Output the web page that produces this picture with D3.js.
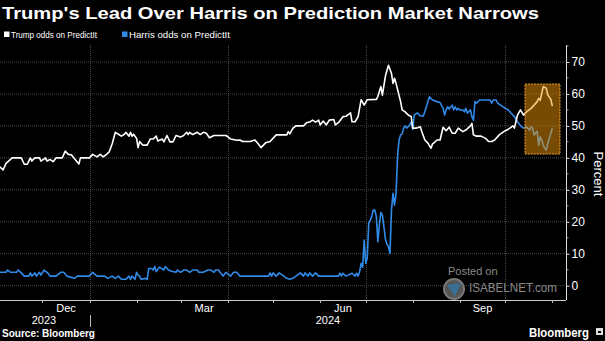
<!DOCTYPE html>
<html><head><meta charset="utf-8">
<script src="https://cdn.jsdelivr.net/npm/d3@7"></script>
<style>
html,body{margin:0;padding:0;background:#000;}
svg{display:block;}
text{font-family:"Liberation Sans",Arial,sans-serif;fill:#fff;}
</style></head>
<body>
<svg id="c" width="605" height="341"></svg>
<script>
// ---------------- DATA ----------------
const title = "Trump's Lead Over Harris on Prediction Market Narrows";
const seriesNames = ["Trump odds on PredictIt", "Harris odds on PredictIt"];
const yTicks = [0, 10, 20, 30, 40, 50, 60, 70];
const yMinorTicks = [5, 15, 25, 35, 45, 55, 65, 75];
const monthLabels = ["Dec", "Mar", "Jun", "Sep"];
const monthLabelDates = ["2023-12-01", "2024-03-01", "2024-06-01", "2024-09-01"];
const yearLabels = ["2023", "2024"];
const source = "Source: Bloomberg";

const trumpDates = ["2023-11-03","2023-11-05","2023-11-07","2023-11-11","2023-11-17","2023-11-19","2023-11-21","2023-11-23","2023-11-24","2023-11-26","2023-11-29","2023-11-30","2023-12-03","2023-12-04","2023-12-06","2023-12-08","2023-12-10","2023-12-14","2023-12-16","2023-12-18","2023-12-20","2023-12-22","2023-12-25","2023-12-26","2024-01-01","2024-01-03","2024-01-06","2024-01-08","2024-01-10","2024-01-12","2024-01-14","2024-01-16","2024-01-18","2024-01-20","2024-01-22","2024-01-24","2024-01-25","2024-01-27","2024-01-28","2024-01-29","2024-01-30","2024-02-01","2024-02-02","2024-02-03","2024-02-05","2024-02-08","2024-02-10","2024-02-12","2024-02-14","2024-02-15","2024-02-18","2024-02-19","2024-02-21","2024-02-23","2024-02-25","2024-02-27","2024-03-01","2024-03-03","2024-03-05","2024-03-06","2024-03-07","2024-03-09","2024-03-12","2024-03-14","2024-03-16","2024-03-18","2024-03-20","2024-03-23","2024-03-31","2024-04-03","2024-04-07","2024-04-09","2024-04-11","2024-04-16","2024-04-19","2024-04-21","2024-04-23","2024-04-26","2024-04-29","2024-05-03","2024-05-10","2024-05-11","2024-05-12","2024-05-14","2024-05-16","2024-05-21","2024-05-23","2024-05-25","2024-05-27","2024-05-29","2024-05-31","2024-06-01","2024-06-03","2024-06-05","2024-06-07","2024-06-10","2024-06-11","2024-06-13","2024-06-16","2024-06-18","2024-06-21","2024-06-22","2024-06-24","2024-06-26","2024-06-28","2024-06-30","2024-07-02","2024-07-08","2024-07-09","2024-07-11","2024-07-12","2024-07-14","2024-07-16","2024-07-18","2024-07-19","2024-07-20","2024-07-21","2024-07-24","2024-07-25","2024-07-27","2024-07-29","2024-07-31","2024-08-01","2024-08-03","2024-08-06","2024-08-07","2024-08-09","2024-08-11","2024-08-13","2024-08-14","2024-08-17","2024-08-19","2024-08-21","2024-08-23","2024-08-25","2024-08-27","2024-08-29","2024-08-31","2024-09-03","2024-09-05","2024-09-08","2024-09-09","2024-09-10","2024-09-12","2024-09-15","2024-09-18","2024-09-20","2024-09-22","2024-09-24","2024-09-27","2024-09-30","2024-10-02","2024-10-04","2024-10-06","2024-10-07","2024-10-09","2024-10-11","2024-10-13","2024-10-15","2024-10-18","2024-10-20","2024-10-22","2024-10-23","2024-10-24","2024-10-26","2024-10-28","2024-10-29","2024-10-31","2024-11-01"];
const trumpValues = [37.2,36.2,38.3,40,40,38,38,40,39,40,40,39,40,39,39.5,38.8,40,40,42.1,41.1,41,39.8,38.1,40,40,41.1,40.3,41.1,40.3,41,41.9,44.5,48,47.4,46.8,47.4,48,46.8,48,46.8,47.4,46.1,43.2,45.1,44,44,45.9,45.9,46.8,45.3,45.9,45,47,45,45,47,46.5,47,48,47.3,48,47.3,48,47.3,48,47.7,46.3,47,47,45.9,45.5,45.6,45.1,45.1,45.6,44.5,43.2,44.7,45.1,47.2,47.2,48.2,47.5,49.2,50,50,51,51.2,51.8,51.2,51.8,50.3,51.5,50.3,51.8,52,50.3,51,52.9,53,54.1,51.3,51.3,52.9,58.2,56.5,58.2,58.3,59.2,62.3,59.6,65.6,69,66.4,63.3,64.9,63.3,57.6,55,54.4,53.4,52.9,49.3,49.3,49.7,48.2,45.6,44.6,43,44.3,45.6,45.6,49.6,48.5,49.6,47.7,47.7,49.3,48.2,48.7,50,50.8,47.2,46.8,46.8,46.1,45.1,45.1,45.6,47.2,48.2,48.7,49.3,50,49.3,53.4,55,53.4,54.4,55.5,56.5,57.6,58.6,58,62.3,61.8,59.7,58.3,56.2];

const harrisDates = ["2023-11-03","2023-11-07","2023-11-08","2023-11-10","2023-11-14","2023-11-15","2023-11-17","2023-11-19","2023-11-22","2023-11-23","2023-11-24","2023-11-26","2023-11-27","2023-11-29","2023-11-30","2023-12-02","2023-12-04","2023-12-06","2023-12-10","2023-12-13","2023-12-15","2023-12-17","2023-12-22","2023-12-24","2024-01-01","2024-01-03","2024-01-06","2024-01-11","2024-01-13","2024-01-16","2024-01-18","2024-01-20","2024-01-22","2024-01-25","2024-01-27","2024-01-28","2024-01-29","2024-01-31","2024-02-01","2024-02-02","2024-02-03","2024-02-04","2024-02-07","2024-02-08","2024-02-09","2024-02-11","2024-02-12","2024-02-13","2024-02-14","2024-02-16","2024-02-19","2024-02-20","2024-02-22","2024-02-24","2024-02-27","2024-02-28","2024-03-01","2024-03-03","2024-03-05","2024-03-07","2024-03-09","2024-03-12","2024-03-13","2024-03-16","2024-03-19","2024-03-21","2024-03-23","2024-03-24","2024-03-26","2024-03-27","2024-03-29","2024-03-31","2024-04-03","2024-04-05","2024-04-07","2024-04-09","2024-04-28","2024-04-29","2024-04-30","2024-05-01","2024-05-03","2024-05-05","2024-05-08","2024-05-10","2024-05-12","2024-05-14","2024-05-16","2024-05-19","2024-05-21","2024-05-22","2024-05-24","2024-05-25","2024-05-27","2024-05-29","2024-05-31","2024-06-13","2024-06-14","2024-06-15","2024-06-16","2024-06-18","2024-06-22","2024-06-24","2024-06-25","2024-06-26","2024-06-27","2024-06-28","2024-06-29","2024-06-30","2024-07-01","2024-07-02","2024-07-03","2024-07-04","2024-07-05","2024-07-06","2024-07-07","2024-07-08","2024-07-09","2024-07-10","2024-07-11","2024-07-12","2024-07-13","2024-07-14","2024-07-15","2024-07-16","2024-07-17","2024-07-18","2024-07-19","2024-07-20","2024-07-21","2024-07-22","2024-07-23","2024-07-24","2024-07-25","2024-07-26","2024-07-27","2024-07-28","2024-07-30","2024-07-31","2024-08-01","2024-08-02","2024-08-04","2024-08-06","2024-08-08","2024-08-10","2024-08-12","2024-08-14","2024-08-17","2024-08-19","2024-08-21","2024-08-22","2024-08-23","2024-08-24","2024-08-25","2024-08-27","2024-08-28","2024-08-29","2024-08-30","2024-08-31","2024-09-01","2024-09-03","2024-09-04","2024-09-05","2024-09-06","2024-09-08","2024-09-09","2024-09-10","2024-09-11","2024-09-12","2024-09-14","2024-09-18","2024-09-21","2024-09-22","2024-09-23","2024-09-25","2024-09-26","2024-09-28","2024-10-01","2024-10-03","2024-10-05","2024-10-07","2024-10-09","2024-10-12","2024-10-13","2024-10-15","2024-10-17","2024-10-18","2024-10-19","2024-10-20","2024-10-22","2024-10-23","2024-10-24","2024-10-25","2024-10-26","2024-10-27","2024-10-28","2024-10-29","2024-10-30","2024-10-31","2024-11-01"];
const harrisValues = [4.2,4.2,4.9,4.2,4.2,4.9,4,3,3,4,3,4,3,4.2,3.3,4.9,4.2,3,3,4.2,4.2,3,2.3,3,3,4.2,3,3,2.3,3,2.3,3,2,2,3,2,3,2,4.2,3.3,3,2,2.3,2,5.4,5.4,4.9,6,4.4,5.8,4.9,6,4.9,4.5,4.2,4.9,4.2,4.9,4.9,4.2,4.9,4.9,4.2,4.2,4.9,4.9,4.2,4.9,4.9,4.2,3,4.2,3,4.2,4.2,3,3,4,3,4,3,4,3,2.3,2,2.3,3,4,3,4,3,4,3,4,3,3,3.9,3,3.9,3,3.9,3,3.9,3,4.4,7,5.8,14.3,7,8.6,19.5,20.5,21.6,23.7,23.7,21.6,13.8,19,22.9,22.1,18.5,14.5,13,12.2,10.1,23.7,28.9,25.2,28.9,40.4,45.6,47.2,47.5,49.3,50,49.3,50.3,51.3,48.9,53.4,54.1,53.1,53.1,56,59.1,58.1,57.6,57.3,55.5,53.4,55,56,55.3,56.5,55,56,55,55.5,55,55,54.4,55.5,54,55,52.9,51.8,57.6,57.1,58.1,58.1,58.1,57.1,58.1,58.1,57.1,56.5,55.5,55,53.9,52.9,51.3,49.6,49.3,49.7,48.7,49.6,49.3,47.2,48.3,44,46.6,45.6,44,43,42.5,44.6,46.1,47.7,49.3];

// highlight box (date range and value range)
const boxDates = ["2024-10-14", "2024-11-06"];
const boxValues = [41.2, 63.1];

// ---------------- CHART ----------------
const parse = d3.utcParse("%Y-%m-%d");
const svg = d3.select("#c");
const W = 605, H = 341;
svg.append("rect").attr("width", W).attr("height", H).attr("fill", "#000");

const plotL = 0, plotR = 566, plotT = 45, plotB = 300;
const x = d3.scaleUtc().domain([parse("2023-11-03"), parse("2024-11-10")]).range([plotL, plotR]);
const y = d3.scaleLinear().domain([0, 70]).range([285.7, 62]);

// Title
svg.append("text").attr("x", 2).attr("y", 18.5).text(title)
  .attr("font-size", 17).attr("font-weight", "bold")
  .attr("textLength", 537).attr("lengthAdjust", "spacingAndGlyphs");

// Legend
const legendColors = ["#ffffff", "#2f8ae8"];
const legendX = [4, 122];
const legendW = [86, 101];
seriesNames.forEach((n, i) => {
  svg.append("rect").attr("x", legendX[i]).attr("y", 31.5).attr("width", 5.5).attr("height", 5.5).attr("fill", legendColors[i]);
  svg.append("text").attr("x", legendX[i] + 7).attr("y", 37.5).text(n)
    .attr("font-size", 9).attr("textLength", legendW[i]).attr("lengthAdjust", "spacingAndGlyphs");
});

// Horizontal gridlines
svg.append("g").selectAll("line").data(yTicks).join("line")
  .attr("x1", plotL).attr("x2", plotR)
  .attr("y1", d => y(d)).attr("y2", d => y(d))
  .attr("stroke", "#4a4a4a").attr("stroke-width", 1).attr("stroke-dasharray", "1,1");

// Vertical gridlines at quarter starts
const quarterStarts = d3.utcMonths(parse("2024-01-01"), parse("2024-11-02"), 3);
svg.append("g").selectAll("line").data(quarterStarts).join("line")
  .attr("x1", d => Math.round(x(d)) + 0.5).attr("x2", d => Math.round(x(d)) + 0.5)
  .attr("y1", plotT).attr("y2", plotB)
  .attr("stroke", "#4a4a4a").attr("stroke-width", 1).attr("stroke-dasharray", "1,1");

// Lines
const line = d3.line().x(d => x(d[0])).y(d => y(d[1])).curve(d3.curveLinear);
const trump = trumpDates.map((d, i) => [parse(d), trumpValues[i]]);
const harris = harrisDates.map((d, i) => [parse(d), harrisValues[i]]);
svg.append("path").datum(harris).attr("d", line).attr("fill", "none")
  .attr("stroke", legendColors[1]).attr("stroke-width", 1.6).attr("stroke-linejoin", "round");
svg.append("path").datum(trump).attr("d", line).attr("fill", "none")
  .attr("stroke", legendColors[0]).attr("stroke-width", 1.6).attr("stroke-linejoin", "round");

// Highlight box
const bx0 = x(parse(boxDates[0])), bx1 = x(parse(boxDates[1]));
svg.append("rect").attr("x", bx0).attr("y", y(boxValues[1]))
  .attr("width", bx1 - bx0).attr("height", y(boxValues[0]) - y(boxValues[1]))
  .attr("fill", "rgba(240,150,10,0.5)").attr("stroke", "#f0a030")
  .attr("stroke-width", 1).attr("stroke-dasharray", "2,1");

// Watermark
svg.append("circle").attr("cx", 454).attr("cy", 289).attr("r", 10)
  .attr("fill", "#555").attr("stroke", "#777").attr("stroke-width", 2);
svg.append("path").attr("d", "M447,285 L461,283 L455,297 Z").attr("fill", "#3a6f95");
svg.append("text").attr("x", 448).attr("y", 275).text("Posted on")
  .attr("font-size", 11).style("fill", "#8a8a8a");
svg.append("text").attr("x", 469).attr("y", 292).text("ISABELNET.com")
  .attr("font-size", 12).style("fill", "#8a8a8a")
  .attr("textLength", 88).attr("lengthAdjust", "spacingAndGlyphs");

// Y axis
const yAxis = d3.axisRight(y).tickValues(yTicks).tickSize(3).tickPadding(2).tickFormat(d3.format("d"));
const gy = svg.append("g").attr("transform", `translate(${plotR + 0.5},0)`).call(yAxis);
gy.select(".domain").remove();
gy.selectAll(".tick line").attr("stroke", "#ddd");
gy.selectAll(".tick text").style("fill", "#fff").attr("font-size", 12)
  .attr("font-family", "Liberation Sans, Arial, sans-serif");
svg.append("line").attr("x1", plotR + 0.5).attr("x2", plotR + 0.5).attr("y1", plotT).attr("y2", plotB)
  .attr("stroke", "#ddd");
svg.append("g").selectAll("line").data(yMinorTicks).join("line")
  .attr("x1", plotR).attr("x2", plotR + 2.5)
  .attr("y1", d => y(d)).attr("y2", d => y(d)).attr("stroke", "#aaa");

// Percent label
svg.append("text").attr("transform", `translate(594,174) rotate(90)`).attr("text-anchor", "middle")
  .text("Percent").attr("font-size", 13);

// X axis
svg.append("line").attr("x1", plotL).attr("x2", plotR).attr("y1", plotB + 0.5).attr("y2", plotB + 0.5)
  .attr("stroke", "#ccc");
const monthTicks = d3.utcMonths(parse("2023-12-01"), parse("2024-11-02"));
svg.append("g").selectAll("line").data(monthTicks).join("line")
  .attr("x1", d => Math.round(x(d)) + 0.5).attr("x2", d => Math.round(x(d)) + 0.5)
  .attr("y1", plotB).attr("y2", plotB + 3).attr("stroke", "#bbb");

monthLabels.forEach((m, i) => {
  const s = parse(monthLabelDates[i]);
  const e = d3.utcMonth.offset(s, 1);
  svg.append("text").attr("x", (x(s) + x(e)) / 2).attr("y", 312).attr("text-anchor", "middle")
    .text(m).attr("font-size", 11);
});
// year labels
svg.append("text").attr("x", 44).attr("y", 324).attr("text-anchor", "middle").text(yearLabels[0]).attr("font-size", 11);
svg.append("text").attr("x", 328).attr("y", 324).attr("text-anchor", "middle").text(yearLabels[1]).attr("font-size", 11);
const jan1 = Math.round(x(parse("2024-01-01"))) + 0.5;
svg.append("line").attr("x1", jan1).attr("x2", jan1).attr("y1", 315).attr("y2", 327).attr("stroke", "#bbb");

// Source
svg.append("text").attr("x", 2).attr("y", 337).text(source).attr("font-size", 10).attr("font-weight", "bold")
  .attr("textLength", 93).attr("lengthAdjust", "spacingAndGlyphs");
svg.append("text").attr("x", 529).attr("y", 337).text("Bloomberg").attr("font-size", 12).attr("font-weight", "bold")
  .attr("textLength", 60).attr("lengthAdjust", "spacingAndGlyphs");
svg.append("rect").attr("x", 596).attr("y", 328).attr("width", 7).attr("height", 7).attr("fill", "#ddd");
svg.append("rect").attr("x", 598).attr("y", 331).attr("width", 3).attr("height", 2).attr("fill", "#000");
</script>
</body></html>
